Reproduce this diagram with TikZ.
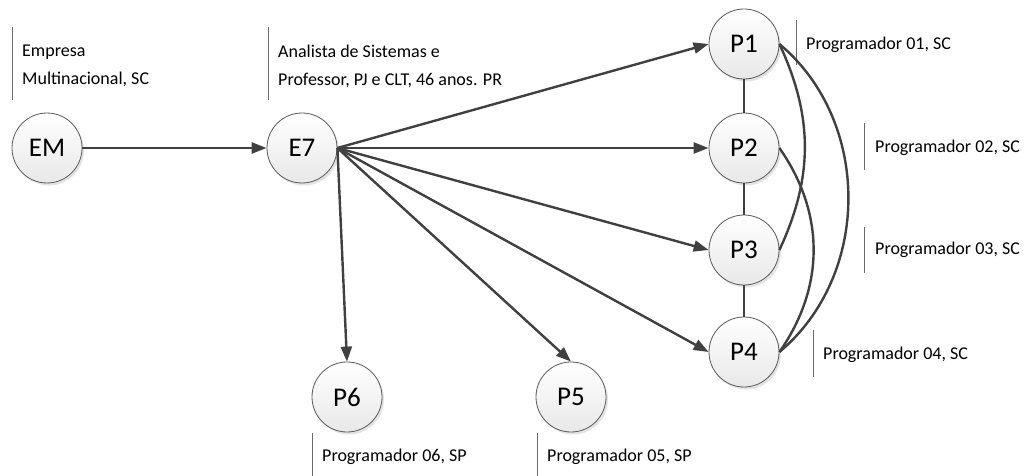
\documentclass[tikz,border=0pt]{standalone}
\usepackage{fontspec}
\setmainfont{Carlito}
\usetikzlibrary{arrows.meta,shadows,calc}
\definecolor{edgegray}{HTML}{404040}
\definecolor{rimgray}{HTML}{5A5A5A}
\definecolor{sepgray}{HTML}{6A6A6A}
\tikzset{
  person/.style={circle, minimum size=70pt, inner sep=0pt, draw=rimgray, line width=0.8pt,
    top color=white, bottom color=black!9,
    drop shadow={opacity=0.22, shadow xshift=2pt, shadow yshift=-2.5pt},
    font=\fontsize{27}{30}\selectfont},
  link/.style={draw=edgegray, line width=2.4pt, -{Triangle[length=15pt,width=11pt]}},
  tie/.style={draw=edgegray, line width=2.4pt},
  note/.style={anchor=west, inner sep=0pt, align=left, font=\fontsize{18}{28}\selectfont},
  sepline/.style={draw=sepgray, line width=0.9pt}
}
\begin{document}
\begin{tikzpicture}[x=1pt,y=-1pt]
\useasboundingbox (0,0) rectangle (1033,476);

% people and companies
\node[person] (EM) at (47,148) {EM};
\node[person] (E7) at (302,148) {E7};
\node[person] (P1) at (744,44) {P1};
\node[person] (P2) at (744,148) {P2};
\node[person] (P3) at (744,250) {P3};
\node[person] (P4) at (744,352) {P4};
\node[person] (P5) at (571,397) {P5};
\node[person] (P6) at (347,397) {P6};

% descriptions
\node[note] (dEM) at (22,66) {Empresa\\Multinacional, SC};
\node[note] (dE7) at (278,66) {Analista de Sistemas e\\Professor, PJ e CLT, 46 anos. PR};
\node[note] (dP1) at (806,45) {Programador 01, SC};
\node[note] (dP2) at (875,148) {Programador 02, SC};
\node[note] (dP3) at (875,250) {Programador 03, SC};
\node[note] (dP4) at (823,355) {Programador 04, SC};
\node[note] (dP6) at (322,457) {Programador 06, SP};
\node[note] (dP5) at (547,457) {Programador 05, SP};

% bars to the left of the descriptions
\draw[sepline] ($(dEM.west)+(-10,-39)$) -- ($(dEM.west)+(-10,34)$);
\draw[sepline] ($(dE7.west)+(-10,-39)$) -- ($(dE7.west)+(-10,34)$);
\draw[sepline] ($(dP1.west)+(-10,-25)$) -- ($(dP1.west)+(-10,20)$);
\draw[sepline] ($(dP2.west)+(-11,-25)$) -- ($(dP2.west)+(-11,22)$);
\draw[sepline] ($(dP3.west)+(-11,-23)$) -- ($(dP3.west)+(-11,23)$);
\draw[sepline] ($(dP4.west)+(-10,-25)$) -- ($(dP4.west)+(-10,22)$);
\draw[sepline] ($(dP6.west)+(-10,-24)$) -- ($(dP6.west)+(-10,22)$);
\draw[sepline] ($(dP5.west)+(-10,-24)$) -- ($(dP5.west)+(-10,22)$);

% hiring relations
\draw[link] (EM.east) -- (E7.west);
\coordinate (hub) at (E7.east);
\draw[link] (hub) -- (P1.west);
\draw[link] (hub) -- (P2.west);
\draw[link] (hub) -- (P3.west);
\draw[link] (hub) -- (P4.west);
\draw[link] (hub) -- (P5.north);
\draw[link] (hub) -- (P6.north);

% ties among the programmers
\draw[tie] (P1) -- (P2);
\draw[tie] (P2) -- (P3);
\draw[tie] (P3) -- (P4);
\draw[tie] (P1.east) to[out=-65,in=65] (P3.east);
\draw[tie] (P2.east) to[out=-55,in=55] (P4.east);
\draw[tie] (P1.east) to[out=-40,in=40] (P4.east);
\end{tikzpicture}
\end{document}
